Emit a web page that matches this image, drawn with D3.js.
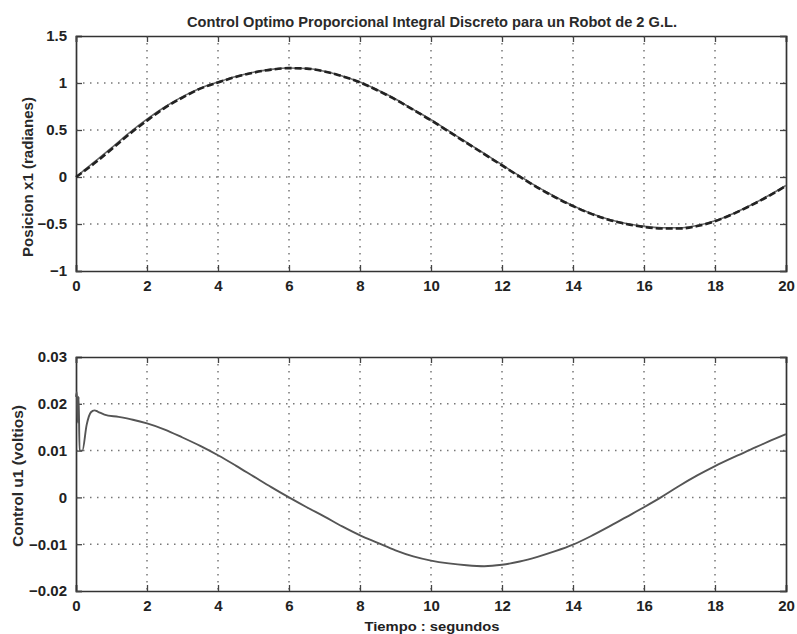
<!DOCTYPE html>
<html>
<head>
<meta charset="utf-8">
<script src="https://cdn.jsdelivr.net/npm/d3@7"></script>
<style>
  html, body { margin: 0; padding: 0; background: #fff; }
  svg { display: block; font-family: "Liberation Sans", Arial, Helvetica, sans-serif; }
</style>
</head>
<body>
<svg id="chart" width="797" height="634"></svg>
<script>
// Time axis (seconds)
const xTicks = [0, 2, 4, 6, 8, 10, 12, 14, 16, 18, 20];

// Joint 1 position: simulated response (solid) and reference (dashed), radians
const posTime = [0, 0.5, 1, 1.5, 2, 2.5, 3, 3.5, 4, 4.5, 5, 5.5, 6, 6.5, 7, 7.5, 8, 8.5, 9, 9.5,
                 10, 10.5, 11, 11.5, 12, 12.5, 13, 13.5, 14, 14.5, 15, 15.5, 16, 16.5, 17, 17.5,
                 18, 18.5, 19, 19.5, 20];
const posActual = [0, 0.155, 0.31, 0.47, 0.615, 0.745, 0.855, 0.945, 1.01, 1.07, 1.115, 1.145, 1.16,
                   1.155, 1.125, 1.075, 1.01, 0.925, 0.83, 0.72, 0.61, 0.49, 0.37, 0.25, 0.13, 0.01,
                   -0.105, -0.21, -0.305, -0.385, -0.45, -0.495, -0.525, -0.54, -0.54, -0.515,
                   -0.465, -0.39, -0.3, -0.2, -0.09];
const posReference = [0, 0.14, 0.295, 0.455, 0.6, 0.735, 0.845, 0.94, 1.005, 1.065, 1.11, 1.142, 1.158,
                      1.153, 1.123, 1.072, 1.006, 0.92, 0.824, 0.714, 0.603, 0.483, 0.363, 0.243, 0.123,
                      0.003, -0.112, -0.216, -0.31, -0.39, -0.455, -0.5, -0.532, -0.548, -0.548, -0.522,
                      -0.47, -0.395, -0.305, -0.205, -0.095];
const posTicks = [-1, -0.5, 0, 0.5, 1, 1.5];

// Joint 1 control signal, volts
const ctrlTime = [0, 0.025, 0.05, 0.075, 0.1, 0.18, 0.3, 0.42, 0.52, 0.62, 0.8, 1.2, 1.6, 2, 2.5, 3,
                  3.5, 4, 4.5, 5, 5.5, 6, 6.5, 7, 7.5, 8, 8.5, 9, 9.5, 10, 10.5, 11, 11.5, 12, 12.5,
                  13, 13.5, 14, 14.5, 15, 15.5, 16, 16.5, 17, 17.5, 18, 18.5, 19, 19.5, 20];
const ctrlValue = [0.0215, 0.0225, 0.016, 0.0215, 0.0100, 0.0100, 0.0155, 0.0182, 0.0186, 0.0183,
                   0.0177, 0.0172, 0.0166, 0.0158, 0.0145, 0.0128, 0.0110, 0.0090, 0.0068, 0.0045,
                   0.0022, 0.0000, -0.0021, -0.0041, -0.0062, -0.0081, -0.0097, -0.0113, -0.0126,
                   -0.0135, -0.0141, -0.0145, -0.0147, -0.0144, -0.0137, -0.0127, -0.0115, -0.0101,
                   -0.0083, -0.0063, -0.0042, -0.0021, 0.0001, 0.0025, 0.0047, 0.0067, 0.0085,
                   0.0102, 0.0119, 0.0135];
const ctrlTicks = [-0.02, -0.01, 0, 0.01, 0.02, 0.03];

const svg = d3.select("#chart");
const left = 76, right = 786;

const x = d3.scaleLinear().domain([0, 20]).range([left, right]);

function panel(top, bottom, yDomain, yTicks, yFmt) {
  const y = d3.scaleLinear().domain(yDomain).range([bottom, top]);
  const g = svg.append("g");

  // dotted grid
  g.selectAll(".gx").data(xTicks.slice(1, -1)).join("line")
    .attr("x1", d => x(d)).attr("x2", d => x(d))
    .attr("y1", top).attr("y2", bottom)
    .attr("stroke", "#777").attr("stroke-width", 1.5)
    .attr("stroke-dasharray", "1.5,5.5");
  g.selectAll(".gy").data(yTicks.slice(1, -1)).join("line")
    .attr("x1", left).attr("x2", right)
    .attr("y1", d => y(d)).attr("y2", d => y(d))
    .attr("stroke", "#777").attr("stroke-width", 1.5)
    .attr("stroke-dasharray", "1.5,5.5");

  // axes with inward ticks on all four sides
  const ax = (axis, tx, ty) => g.append("g").attr("transform", `translate(${tx},${ty})`).call(axis);
  const bottomAx = ax(d3.axisBottom(x).tickValues(xTicks).tickSize(-6).tickPadding(9).tickFormat(d3.format("d")), 0, bottom);
  const leftAx = ax(d3.axisLeft(y).tickValues(yTicks).tickSize(-6).tickPadding(9).tickFormat(yFmt), left, 0);
  ax(d3.axisTop(x).tickValues(xTicks).tickSize(-6).tickFormat(""), 0, top);
  ax(d3.axisRight(y).tickValues(yTicks).tickSize(-6).tickFormat(""), right, 0);
  g.selectAll(".domain").attr("stroke", "#333").attr("stroke-width", 1.7);
  g.selectAll(".tick line").attr("stroke", "#444").attr("stroke-width", 1.3);
  [bottomAx, leftAx].forEach(a => a.selectAll("text")
    .attr("font-family", "'Liberation Sans', Arial, sans-serif")
    .attr("font-size", 15).attr("font-weight", "bold").attr("fill", "#222"));
  return y;
}

// upper panel: position
const y1 = panel(36, 271, [-1, 1.5], posTicks, d => d === 0 ? "0" : d3.format("")(d).replace("-", "\u2212"));
const posLine = d3.line().x(d => x(d[0])).y(d => y1(d[1])).curve(d3.curveMonotoneX);
svg.append("path")
  .attr("d", posLine(posTime.map((t, i) => [t, posActual[i]])))
  .attr("fill", "none").attr("stroke", "#666").attr("stroke-width", 1.6);
svg.append("path")
  .attr("d", posLine(posTime.map((t, i) => [t, posReference[i]])))
  .attr("fill", "none").attr("stroke", "#222").attr("stroke-width", 2.6)
  .attr("stroke-dasharray", "7,3");

// lower panel: control signal
const y2 = panel(357, 591, [-0.02, 0.03], ctrlTicks, d => d === 0 ? "0" : d3.format(".2f")(d).replace("-", "\u2212"));
const ctrlLine = d3.line().x(d => x(d[0])).y(d => y2(d[1])).curve(d3.curveMonotoneX);
svg.append("path")
  .attr("d", ctrlLine(ctrlTime.map((t, i) => [t, ctrlValue[i]])))
  .attr("fill", "none").attr("stroke", "#555").attr("stroke-width", 1.9)
  .attr("stroke-linejoin", "round");

// titles and axis labels
svg.append("text").attr("x", 432).attr("y", 27).attr("text-anchor", "middle")
  .attr("font-size", 15).attr("font-weight", "bold").attr("fill", "#2a2a2a")
  .attr("textLength", 490).attr("lengthAdjust", "spacingAndGlyphs")
  .text("Control Optimo Proporcional Integral Discreto para un Robot de 2 G.L.");

svg.append("text").attr("transform", "translate(33,177) rotate(-90)").attr("text-anchor", "middle")
  .attr("font-size", 14).attr("font-weight", "bold").attr("fill", "#2a2a2a")
  .attr("textLength", 160).attr("lengthAdjust", "spacingAndGlyphs")
  .text("Posicion x1 (radianes)");

svg.append("text").attr("transform", "translate(23,476) rotate(-90)").attr("text-anchor", "middle")
  .attr("font-size", 14).attr("font-weight", "bold").attr("fill", "#2a2a2a")
  .attr("textLength", 142).attr("lengthAdjust", "spacingAndGlyphs")
  .text("Control u1  (voltios)");

svg.append("text").attr("x", 432).attr("y", 631).attr("text-anchor", "middle")
  .attr("font-size", 13.5).attr("font-weight", "bold").attr("fill", "#222")
  .attr("textLength", 135).attr("lengthAdjust", "spacingAndGlyphs")
  .text("Tiempo : segundos");
</script>
</body>
</html>
